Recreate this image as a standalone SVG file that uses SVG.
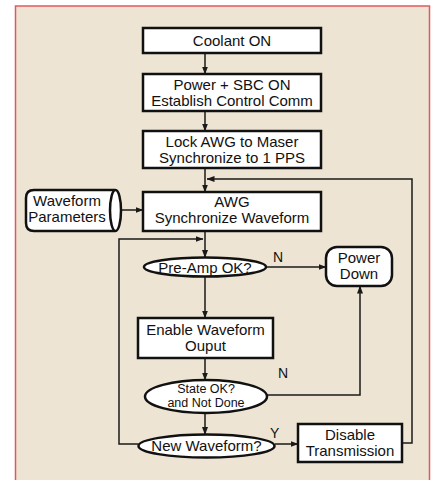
<svg xmlns="http://www.w3.org/2000/svg" width="434" height="480" viewBox="0 0 434 480">
<defs>
<marker id="ah" markerWidth="8" markerHeight="6" refX="7.5" refY="3" orient="auto" markerUnits="userSpaceOnUse">
<path d="M0,0 L8,3 L0,6 Z" fill="#1a1a1a"/>
</marker>
</defs>
<style>
.box{fill:#fff;stroke:#111;stroke-width:2.5}
.t{font-family:"Liberation Sans",Arial,sans-serif;font-size:15px;fill:#111;text-anchor:middle}
.s{font-size:12.5px}
.c{fill:none;stroke:#1a1a1a;stroke-width:1.5}
.a{marker-end:url(#ah)}
.lbl{font-family:"Liberation Sans",Arial,sans-serif;font-size:14px;fill:#111}
</style>
<rect x="0" y="0" width="434" height="480" fill="#fff"/>
<rect x="15.5" y="6" width="414" height="500" fill="#ede4d3" stroke="#e0595f" stroke-width="1.5"/>
<g id="connectors">
<line class="c a" x1="205" y1="53" x2="205" y2="74"/>
<line class="c a" x1="205" y1="111" x2="205" y2="131"/>
<line class="c a" x1="205" y1="168" x2="205" y2="192"/>
<line class="c a" x1="121" y1="210" x2="143" y2="210"/>
<line class="c a" x1="205" y1="231" x2="205" y2="257.5"/>
<line class="c a" x1="266" y1="267" x2="326" y2="267"/>
<line class="c a" x1="205" y1="276.5" x2="205" y2="318"/>
<line class="c a" x1="205" y1="358" x2="205" y2="380"/>
<polyline class="c a" points="267,395 360,395 360,286"/>
<line class="c a" x1="205" y1="413" x2="205" y2="434.5"/>
<line class="c a" x1="275" y1="444" x2="298" y2="444"/>
<polyline class="c a" points="402,443 412,443 412,179 207,179"/>
<polyline class="c a" points="138.5,444 119,444 119,239 203,239"/>
<text class="lbl" x="273" y="262">N</text>
<text class="lbl" x="278" y="378">N</text>
<text class="lbl" x="270" y="438">Y</text>
</g>
<g id="coolant">
<rect class="box" x="143" y="28" width="178" height="25"/>
<text class="t" x="232" y="46">Coolant ON</text>
</g>
<g id="power">
<rect class="box" x="143" y="74" width="178" height="37"/>
<text class="t" x="232" y="90">Power + SBC ON</text>
<text class="t" x="232" y="106">Establish Control Comm</text>
</g>
<g id="lock">
<rect class="box" x="143" y="131" width="178" height="37"/>
<text class="t" x="232" y="147">Lock AWG to Maser</text>
<text class="t" x="232" y="163">Synchronize to 1 PPS</text>
</g>
<g id="params">
<path class="box" d="M115,190 L34,190 Q26,190 26,198 L26,223 Q26,231 34,231 L115,231"/>
<ellipse class="box" cx="115.5" cy="210.5" rx="5.5" ry="20.5"/>
<text class="t" x="67" y="206">Waveform</text>
<text class="t" x="67" y="222">Parameters</text>
</g>
<g id="awg">
<rect class="box" x="143" y="192" width="178" height="39"/>
<text class="t" x="232" y="207">AWG</text>
<text class="t" x="232" y="223">Synchronize Waveform</text>
</g>
<g id="preamp">
<ellipse class="box" cx="205" cy="267" rx="61" ry="9.5"/>
<text class="t" x="205" y="272.5">Pre-Amp OK?</text>
</g>
<g id="powerdown">
<rect class="box" x="326" y="247" width="66" height="39" rx="11"/>
<text class="t" x="359" y="263">Power</text>
<text class="t" x="359" y="279">Down</text>
</g>
<g id="enable">
<rect class="box" x="138" y="318" width="135" height="40"/>
<text class="t" x="205.5" y="335">Enable Waveform</text>
<text class="t" x="205.5" y="351">Ouput</text>
</g>
<g id="stateok">
<ellipse class="box" cx="206" cy="396.5" rx="61" ry="16.5"/>
<text class="t s" x="206" y="393">State OK?</text>
<text class="t s" x="206" y="407">and Not Done</text>
</g>
<g id="newwave">
<ellipse class="box" cx="206.5" cy="446" rx="68" ry="11.5"/>
<text class="t" x="206.5" y="451">New Waveform?</text>
</g>
<g id="disable">
<rect class="box" x="298" y="424" width="104" height="38"/>
<text class="t" x="350" y="440">Disable</text>
<text class="t" x="350" y="456">Transmission</text>
</g>
</svg>
